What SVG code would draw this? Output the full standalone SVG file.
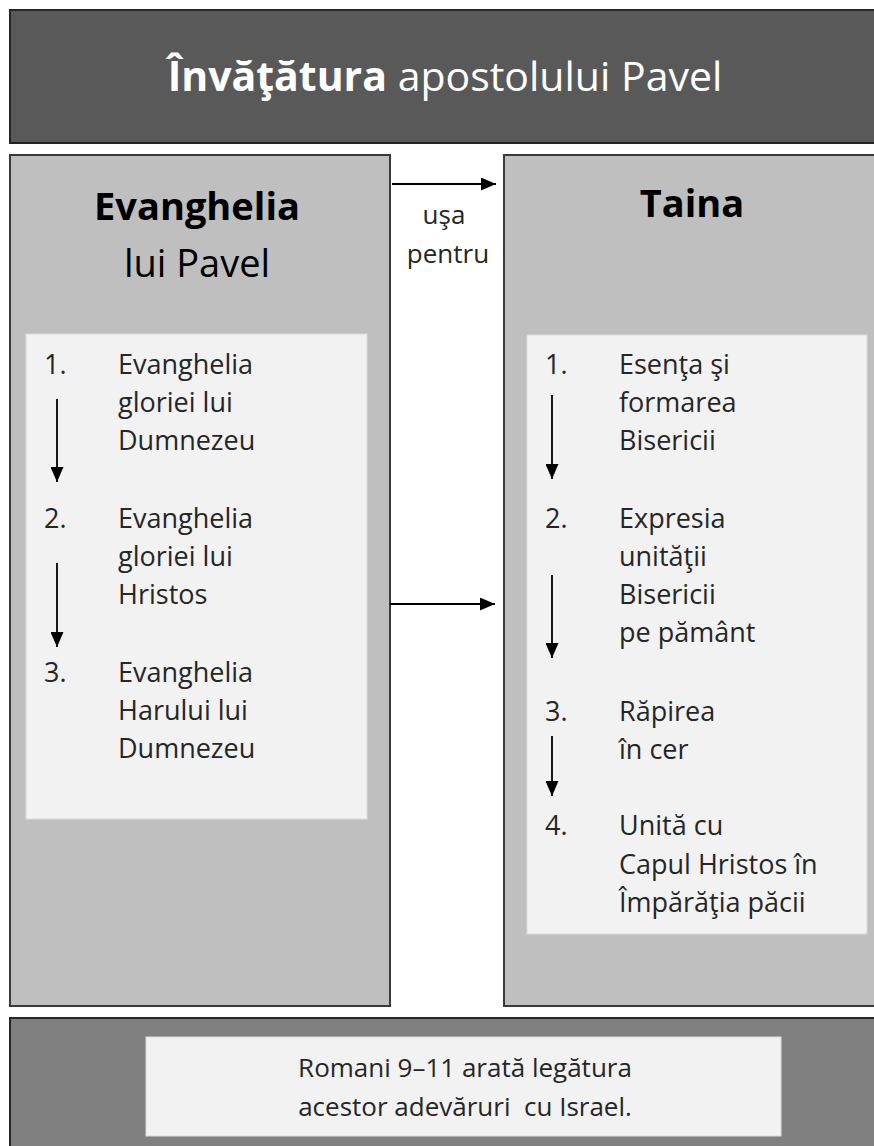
<svg xmlns="http://www.w3.org/2000/svg" width="874" height="1146" viewBox="0 0 874 1146">
<style>
text{font-family:"Open Sans","Noto Sans",sans-serif;}
.dark{fill:#595959;stroke:#262626;stroke-width:2;}
.panel{fill:#bfbfbf;stroke:#3a3a3a;stroke-width:2;}
.inner{fill:#f2f2f2;stroke:#dcdcdc;stroke-width:1;}
.foot{fill:#808080;stroke:#262626;stroke-width:2;}
.title{fill:#ffffff;font-size:41px;}
.head{fill:#000;font-size:38px;text-anchor:middle;}
.body{fill:#262626;font-size:27px;}
.lbl{fill:#262626;font-size:26px;text-anchor:middle;}
.conn{stroke:#000;stroke-width:1.8;fill:none;marker-end:url(#ah);}
</style>
<defs>
<marker id="ah" markerUnits="userSpaceOnUse" markerWidth="15" markerHeight="13" refX="15" refY="6.5" orient="auto">
<path d="M0,0 L15,6.5 L0,13 Z" fill="#000"/>
</marker>
</defs>
<rect width="874" height="1146" fill="#ffffff"/>
<g id="title">
<rect class="dark" x="10" y="10" width="880" height="133"/>
<text class="title" x="445" y="91" text-anchor="middle"><tspan font-weight="bold">Învăţătura</tspan> apostolului Pavel</text>
</g>
<g id="evanghelia">
<rect class="panel" x="10" y="155" width="380" height="851"/>
<text class="head" x="197" y="220" font-weight="bold">Evanghelia</text>
<text class="head" x="197" y="277" font-size="40">lui Pavel</text>
<rect class="inner" x="26" y="334" width="341" height="485"/>
<text class="body" x="44" y="374">1.</text>
<text class="body" x="118" y="374">Evanghelia</text>
<text class="body" x="118" y="412">gloriei lui</text>
<text class="body" x="118" y="450">Dumnezeu</text>
<text class="body" x="44" y="528">2.</text>
<text class="body" x="118" y="528">Evanghelia</text>
<text class="body" x="118" y="566">gloriei lui</text>
<text class="body" x="118" y="604">Hristos</text>
<text class="body" x="44" y="682">3.</text>
<text class="body" x="118" y="682">Evanghelia</text>
<text class="body" x="118" y="720">Harului lui</text>
<text class="body" x="118" y="758">Dumnezeu</text>
</g>
<g id="taina">
<rect class="panel" x="504" y="155" width="380" height="851"/>
<text class="head" x="692" y="217" font-weight="bold">Taina</text>
<rect class="inner" x="527" y="335" width="340" height="599"/>
<text class="body" x="545" y="374">1.</text>
<text class="body" x="619" y="374">Esenţa şi</text>
<text class="body" x="619" y="412">formarea</text>
<text class="body" x="619" y="450">Bisericii</text>
<text class="body" x="545" y="528">2.</text>
<text class="body" x="619" y="528">Expresia</text>
<text class="body" x="619" y="566">unităţii</text>
<text class="body" x="619" y="604">Bisericii</text>
<text class="body" x="619" y="642">pe pământ</text>
<text class="body" x="545" y="721">3.</text>
<text class="body" x="619" y="721">Răpirea</text>
<text class="body" x="619" y="759">în cer</text>
<text class="body" x="545" y="835">4.</text>
<text class="body" x="619" y="835">Unită cu</text>
<text class="body" x="619" y="874">Capul Hristos în</text>
<text class="body" x="619" y="912">Împărăţia păcii</text>
</g>
<g id="footer">
<rect class="foot" x="10" y="1018" width="880" height="140"/>
<rect class="inner" x="146" y="1037" width="635" height="99"/>
<text class="lbl" x="465" y="1077">Romani 9–11 arată legătura</text>
<text class="lbl" x="465" y="1116" xml:space="preserve">acestor adevăruri  cu Israel.</text>
</g>
<g id="connectors">
<line class="conn" x1="392" y1="184" x2="496" y2="184"/>
<text class="lbl" x="444" y="224">uşa</text>
<text class="lbl" x="448" y="263">pentru</text>
<line class="conn" x1="390" y1="604" x2="495" y2="604"/>
<line class="conn" x1="57" y1="399" x2="57" y2="482"/>
<line class="conn" x1="57" y1="563" x2="57" y2="647"/>
<line class="conn" x1="552" y1="395" x2="552" y2="479"/>
<line class="conn" x1="552" y1="575" x2="552" y2="658"/>
<line class="conn" x1="552" y1="736" x2="552" y2="796"/>
</g>
</svg>
